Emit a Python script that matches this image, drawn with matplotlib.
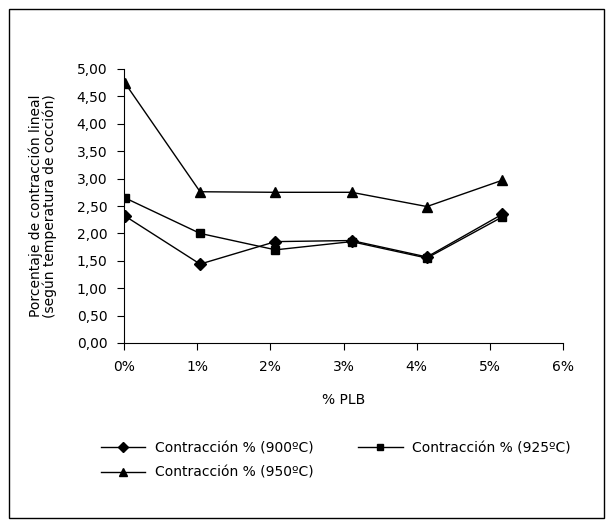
import matplotlib.pyplot as plt
from matplotlib.patches import Rectangle
from matplotlib.ticker import FuncFormatter

# --- Data ---
# the points sit a little right of the tick marks in the original chart
PLB_PCT = [0.01, 1.04, 2.07, 3.11, 4.14, 5.17]
CONTR_900 = [2.32, 1.44, 1.85, 1.87, 1.57, 2.35]
CONTR_925 = [2.65, 2.00, 1.70, 1.85, 1.55, 2.30]
CONTR_950 = [4.75, 2.76, 2.75, 2.75, 2.49, 2.97]
X_TICKS = [0, 1, 2, 3, 4, 5, 6]
LABELS = ['Contracción % (900ºC)', 'Contracción % (925ºC)', 'Contracción % (950ºC)']

FS = 10
plt.rcParams['font.family'] = ['DejaVu Sans']
plt.rcParams['font.size'] = FS

fig = plt.figure(figsize=(6.12, 5.27), dpi=100)

# outer chart border
fig.patches.append(Rectangle((8.5 / 612, 9 / 527), 595 / 612, 509 / 527,
                             transform=fig.transFigure, fill=False,
                             edgecolor='black', linewidth=1.0))

ax = fig.add_axes([124 / 612, 1 - 343 / 527, 439 / 612, 274 / 527])

l1, = ax.plot(PLB_PCT, CONTR_900, color='black', lw=1.0, marker='D', ms=6)
l2, = ax.plot(PLB_PCT, CONTR_925, color='black', lw=1.0, marker='s', ms=6)
l3, = ax.plot(PLB_PCT, CONTR_950, color='black', lw=1.0, marker='^', ms=7.5)

ax.set_xlim(0, 6)
ax.set_ylim(0, 5)
ax.set_xticks(X_TICKS)
ax.set_yticks([i * 0.5 for i in range(11)])
ax.xaxis.set_major_formatter(FuncFormatter(lambda v, p: f'{v:.0f}%'))
ax.yaxis.set_major_formatter(FuncFormatter(lambda v, p: f'{v:.2f}'.replace('.', ',')))
ax.tick_params(direction='out', length=5, width=0.8, labelsize=FS)
ax.tick_params(axis='y', pad=7)
ax.tick_params(axis='x', pad=7)
ax.spines['top'].set_visible(False)
ax.spines['right'].set_visible(False)
ax.set_facecolor('none')

ax.set_xlabel('% PLB', fontsize=FS, labelpad=14)
ax.set_ylabel('Porcentaje de contracción lineal\n(según temperatura de cocción)',
              fontsize=FS, labelpad=14, linespacing=1.0)

# column-wise fill: 900 and 925 on the first row, 950 below
fig.legend([l1, l3, l2], [LABELS[0], LABELS[2], LABELS[1]], ncol=2,
           frameon=False, fontsize=FS, markerscale=0.8,
           loc='upper left', bbox_to_anchor=(101 / 612, 1 - 441 / 527),
           borderpad=0, borderaxespad=0,
           handlelength=3.2, handletextpad=0.7, columnspacing=3.2,
           labelspacing=0.75)

fig.savefig('out.png', dpi=100)
